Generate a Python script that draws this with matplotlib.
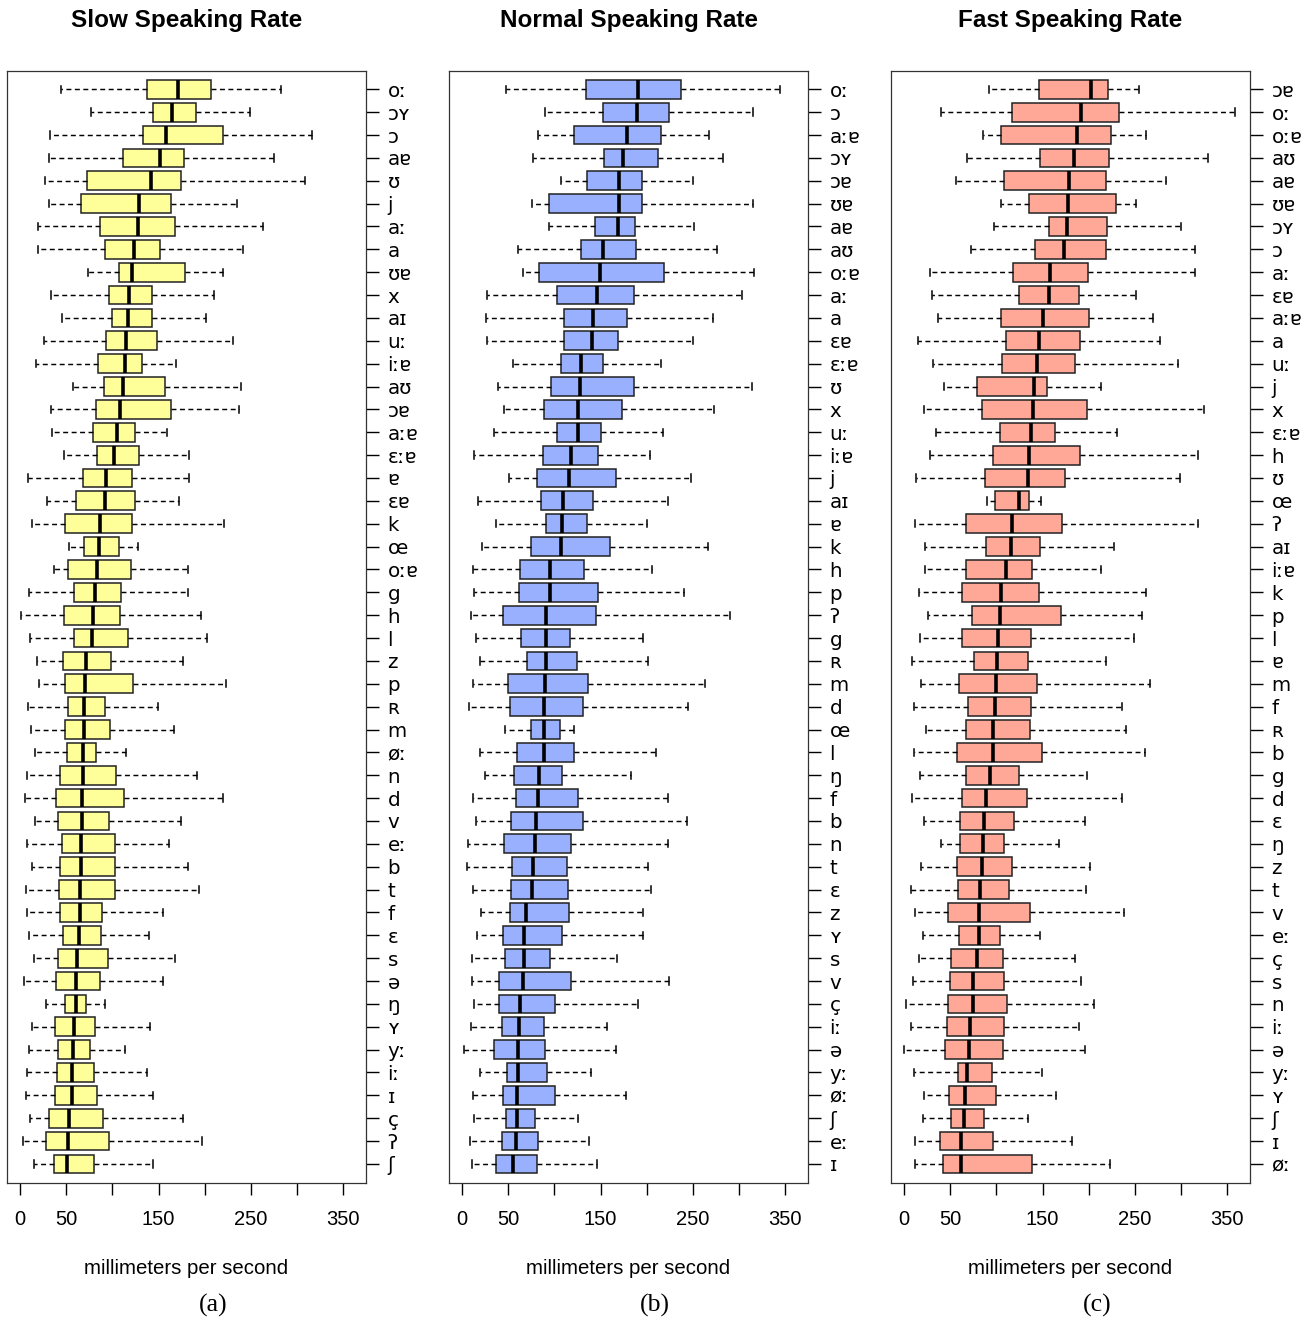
import matplotlib
matplotlib.use("Agg")
import matplotlib.pyplot as plt

plt.rcParams['font.family'] = ['Liberation Sans', 'DejaVu Sans']

# ---- Slow speaking rate ----
slow_labels = ["oː", "ɔʏ", "ɔ", "aɐ", "ʊ", "j", "aː", "a", "ʊɐ", "x", "aɪ", "uː",
               "iːɐ", "aʊ", "ɔɐ", "aːɐ", "ɛːɐ", "ɐ", "ɛɐ", "k", "œ", "oːɐ", "g", "h",
               "l", "z", "p", "ʀ", "m", "øː", "n", "d", "v", "eː", "b", "t",
               "f", "ɛ", "s", "ə", "ŋ", "ʏ", "yː", "iː", "ɪ", "ç", "ʔ", "ʃ"]
slow_lo = [44.7, 76.8, 32.1, 31, 27.4, 31.7, 19.5, 19.5, 74, 33.6, 45.1, 26.3,
           17.7, 57.4, 33.6, 34.6, 47.3, 8.3, 29.6, 13, 52.7, 36.4, 10.1, 1.4,
           10.8, 18.8, 20.6, 8.3, 11.9, 16.2, 7.9, 5.1, 16.2, 7.6, 13, 6.1,
           7.2, 9.7, 14.8, 4, 28.5, 12.6, 9.7, 7.2, 6.5, 10.8, 3.2, 14.8]
slow_q1 = [137.8, 144, 133.1, 111.5, 72.2, 66.4, 86.6, 91.6, 107.1, 96.3, 99.6, 92.7,
           84.4, 91.3, 82.6, 79.4, 83, 68.2, 60.2, 48.3, 69.6, 52.3, 58.4, 48,
           58.1, 46.5, 48.7, 51.9, 48.7, 50.9, 43.3, 39, 41.1, 45.8, 42.9, 42.2,
           43.3, 46.5, 41.1, 38.6, 48.3, 37.9, 40.8, 39.7, 37.5, 31.4, 28.1, 37.2]
slow_med = [171, 164.1, 158, 151.2, 141.4, 128.8, 127.4, 123.4, 121.6, 118, 117.2, 114.7,
            113.3, 111.1, 107.9, 104.6, 102.1, 93.1, 91.6, 86.9, 85.9, 83.7, 81.2, 79,
            78.3, 71.8, 70.7, 68.9, 68.9, 68.5, 68.2, 67.5, 66.7, 66.4, 65.7, 65.3,
            65.3, 63.9, 61.7, 60.6, 60.6, 58.1, 57.4, 56.3, 56.3, 53.4, 52.3, 50.9]
slow_q3 = [207, 190.1, 219.7, 177.5, 173.9, 163.1, 167.4, 151.5, 178.6, 142.5, 142.5, 148.6,
           132, 156.9, 163.1, 124.8, 128.4, 121.2, 124.5, 121.6, 106.8, 119.8, 109, 108.2,
           116.5, 98.5, 122.3, 92, 97, 81.9, 103.5, 112.6, 96.3, 102.5, 103.2, 103.2,
           88.7, 88, 94.9, 86.2, 71.4, 81.2, 76.1, 80.4, 83, 90.2, 96, 80.4]
slow_hi = [282.8, 249, 316.4, 275.3, 308.5, 234.5, 262.6, 241, 219.7, 210.3, 201, 230.2,
           168.8, 238.8, 236.7, 159.5, 182.9, 182.5, 171.7, 220.8, 128.1, 181.8, 181.8, 195.9,
           202.4, 176.1, 222.9, 149.7, 166.3, 115.1, 191.9, 220.1, 173.9, 161.3, 181.5, 193.7,
           154.4, 140, 168.1, 154.4, 91.6, 140.7, 113.3, 137.4, 144.3, 176.4, 196.6, 144.3]

# ---- Normal speaking rate ----
norm_labels = ["oː", "ɔ", "aːɐ", "ɔʏ", "ɔɐ", "ʊɐ", "aɐ", "aʊ", "oːɐ", "aː", "a", "ɛɐ",
               "ɛːɐ", "ʊ", "x", "uː", "iːɐ", "j", "aɪ", "ɐ", "k", "h", "p", "ʔ",
               "g", "ʀ", "m", "d", "œ", "l", "ŋ", "f", "b", "n", "t", "ɛ",
               "z", "ʏ", "s", "v", "ç", "iː", "ə", "yː", "øː", "ʃ", "eː", "ɪ"]
norm_lo = [47.6, 90.2, 82.3, 76.5, 107.2, 76.1, 94.2, 61, 66, 27.4, 26, 27.1,
           55.2, 39, 45.5, 34.3, 13, 51.2, 17.3, 36.8, 21.7, 11.5, 13.4, 9.7,
           14.8, 19.8, 11.9, 7.6, 46.6, 19.5, 24.5, 12.3, 15.2, 6.9, 5.8, 12.3,
           20.2, 16.2, 10.5, 10.5, 12.6, 10.1, 2.2, 19.1, 11.5, 13, 8.7, 11.2]
norm_q1 = [134.6, 153, 120.9, 153.4, 135, 94.2, 143.6, 128.5, 83.7, 103.2, 110.1, 110.8,
           107.2, 96, 89.1, 102.9, 87.7, 81.2, 85.2, 90.6, 74.3, 63.2, 62.1, 44.7,
           63.9, 70, 49.4, 52.3, 74.7, 59.5, 56.7, 58.1, 52.7, 45.1, 53.8, 52.7,
           52.3, 44, 46.2, 40.1, 39.7, 43.3, 35, 48.7, 44.7, 47.3, 42.9, 36.4]
norm_med = [190.9, 189.8, 178.6, 174.7, 170, 170, 169.3, 152.7, 149.8, 145.8, 141.5, 140.4,
            128.8, 127.8, 125.6, 125.6, 117.6, 115.8, 109.7, 108.3, 107.2, 95.3, 95.3, 90.9,
            90.6, 90.6, 90.2, 89.1, 88.8, 88.8, 83, 81.9, 80.5, 79.4, 76.9, 76.1,
            68.9, 67.5, 67.1, 66, 62.4, 61.3, 60.6, 60.6, 59.9, 59.5, 58.8, 55.2]
norm_q3 = [237.1, 224.5, 215.1, 212.6, 194.9, 194.9, 187.7, 188.7, 218.3, 186.2, 178.3, 168.5,
           153, 186.2, 172.9, 150.9, 147.2, 166.4, 141.5, 135.7, 160.2, 131.7, 147.2, 144.7,
           117.3, 124.5, 136, 130.6, 106.5, 121.3, 107.9, 125.6, 130.6, 117.6, 113.3, 114.4,
           115.5, 107.9, 95.3, 117.6, 100.3, 89.1, 90.2, 92, 100.3, 79, 81.9, 80.8]
norm_hi = [344.3, 314.7, 267.4, 282.6, 249.7, 314.7, 250.8, 276.1, 316.5, 302.8, 271.4, 250.1,
           215.8, 314, 273.2, 218, 203.2, 248.3, 222.7, 199.9, 266.3, 206.1, 240.7, 289.8,
           196, 201.4, 263.4, 244.7, 121.6, 210.4, 182.6, 223.4, 244, 223, 201.7, 204.3,
           196.3, 195.6, 168.2, 223.7, 190.2, 156.6, 167.1, 139.3, 177.6, 125.6, 137.9, 145.8]

# ---- Fast speaking rate ----
fast_labels = ["ɔɐ", "oː", "oːɐ", "aʊ", "aɐ", "ʊɐ", "ɔʏ", "ɔ", "aː", "ɛɐ", "aːɐ", "a",
               "uː", "j", "x", "ɛːɐ", "h", "ʊ", "œ", "ʔ", "aɪ", "iːɐ", "k", "p",
               "l", "ɐ", "m", "f", "ʀ", "b", "g", "d", "ɛ", "ŋ", "z", "t",
               "v", "eː", "ç", "s", "n", "iː", "ə", "yː", "ʏ", "ʃ", "ɪ", "øː"]
fast_lo = [92.4, 40.1, 85.2, 68.6, 56.3, 104.4, 96.8, 72.6, 27.8, 30, 37.2, 15.2,
           31.8, 43.7, 22, 35, 27.8, 13, 89.9, 11.6, 23.1, 22.4, 16.6, 25.6,
           17.3, 9, 18.8, 10.8, 23.5, 10.8, 17.7, 9, 22, 40.1, 18.8, 7.9,
           12.3, 20.9, 15.9, 9.7, 2.5, 7.9, 0.4, 10.8, 21.3, 20.2, 11.6, 11.6]
fast_q1 = [146.3, 117, 104.4, 146.6, 108.3, 135.4, 156.7, 141.6, 117.4, 124.9, 104.4, 109.8,
           105.8, 79.4, 84.1, 103.3, 95.7, 87.7, 98.6, 67.2, 88.8, 66.8, 63.2, 74,
           63.2, 75.5, 59.9, 69.7, 66.8, 57.4, 67.5, 62.5, 60.7, 60.7, 57.4, 58.1,
           48, 59.9, 51.3, 49.8, 48, 46.9, 44.8, 58.1, 49.1, 50.9, 38.6, 42.3]
fast_med = [201.9, 191.4, 187, 183.8, 178.4, 177.3, 176.6, 173, 157.8, 157.1, 150.9, 146.3,
            144.1, 140.5, 139.8, 137.2, 135.1, 134, 124.6, 117, 115.9, 110.5, 104.4, 103.3,
            101.5, 100.4, 99.7, 98.6, 96.4, 95.7, 93.2, 89.2, 86.7, 85.6, 83.8, 82.7,
            81.6, 81.6, 78.4, 74.8, 74.8, 70.8, 70.1, 67.9, 66.4, 64.3, 62.1, 61.8]
fast_q3 = [220.6, 232.2, 223.5, 222.1, 218.1, 229.7, 219.2, 218.1, 198.6, 189.2, 200.4, 189.9,
           184.5, 154.6, 197.9, 163.6, 190.3, 173.7, 135.1, 171.2, 147, 139, 145.9, 169.4,
           137.6, 134.3, 144.1, 137.6, 136.5, 148.8, 124.9, 133.3, 119.5, 108, 117, 114.1,
           136.5, 103.6, 107.3, 108.3, 111.6, 108, 106.9, 95.3, 100, 86.3, 96.4, 138.7]
fast_hi = [254.2, 358.6, 261.8, 329.3, 283.8, 251, 300.1, 314.9, 314.9, 251.3, 269.4, 277.3,
           296.1, 212.7, 324.6, 230.7, 318.1, 299, 148.4, 318.1, 227.1, 212.7, 262.2, 257.5,
           249.2, 218.5, 266.2, 235.8, 240.5, 260.4, 198.3, 235.5, 196.1, 167.9, 201.2, 197.2,
           238.4, 146.6, 185.3, 191.4, 205.5, 188.9, 196.1, 149.5, 164.7, 134.3, 181.3, 223.2]

titles = ["Slow Speaking Rate", "Normal Speaking Rate", "Fast Speaking Rate"]
colors = ["#FFFF99", "#99B0FF", "#FFA898"]
xticks = [0, 50, 100, 150, 200, 250, 300, 350]
xticklabels = ["0", "50", "", "150", "", "250", "", "350"]
sub_labels = ["(a)", "(b)", "(c)"]


def draw_panel(ax, labels, lo, q1, med, q3, hi, color):
    stats = []
    for i in range(len(labels)):
        stats.append(dict(whislo=lo[i], q1=q1[i], med=med[i], q3=q3[i],
                          whishi=hi[i], fliers=[]))
    ax.bxp(stats, positions=range(len(labels)), orientation='horizontal',
           widths=0.82, capwidths=0.32, showfliers=False, patch_artist=True,
           boxprops=dict(facecolor=color, edgecolor='#222222', linewidth=1.1),
           medianprops=dict(color='black', linewidth=2.6, solid_capstyle='butt'),
           whiskerprops=dict(color='black', linewidth=1.05, linestyle=(0, (3.4, 2.4))),
           capprops=dict(color='black', linewidth=1.1))
    ax.set_ylim(len(labels) - 1 + 0.82, -0.8)
    ax.set_xlim(-14.2, 374.5)
    ax.yaxis.tick_right()
    ax.set_yticks(range(len(labels)))
    ax.set_yticklabels(labels, fontfamily='DejaVu Sans', fontsize=14.3)
    ax.set_xticks(xticks)
    ax.set_xticklabels(xticklabels, fontsize=14.5)
    ax.tick_params(axis='y', length=9, width=1, pad=6.5, right=True, left=False)
    ax.tick_params(axis='x', length=8.5, width=1, pad=11)
    for s in ax.spines.values():
        s.set_linewidth(0.9)
        s.set_color('#333333')


fig = plt.figure(figsize=(13.16, 13.19), dpi=100)
W, H = 1316.0, 1319.0
lefts = [7, 449, 891]
panels = [
    (slow_labels, slow_lo, slow_q1, slow_med, slow_q3, slow_hi),
    (norm_labels, norm_lo, norm_q1, norm_med, norm_q3, norm_hi),
    (fast_labels, fast_lo, fast_q1, fast_med, fast_q3, fast_hi),
]
for k in range(3):
    ax = fig.add_axes([lefts[k] / W, 1 - 1182.7 / H, 359 / W, 1111.7 / H])
    draw_panel(ax, *panels[k], colors[k])
    cx = (lefts[k] + 179.5) / W
    fig.text(cx, 1 - 20 / H, titles[k], ha='center', va='center',
             fontsize=17.5, fontweight='bold')
    fig.text(cx, 1 - 1268 / H, "millimeters per second", ha='center',
             va='center', fontsize=14.7)
    fig.text((lefts[k] + 206) / W, 1 - 1305 / H, sub_labels[k], ha='center',
             va='center', fontsize=18.5, fontfamily='Liberation Serif')

fig.savefig("out.png", dpi=100)
